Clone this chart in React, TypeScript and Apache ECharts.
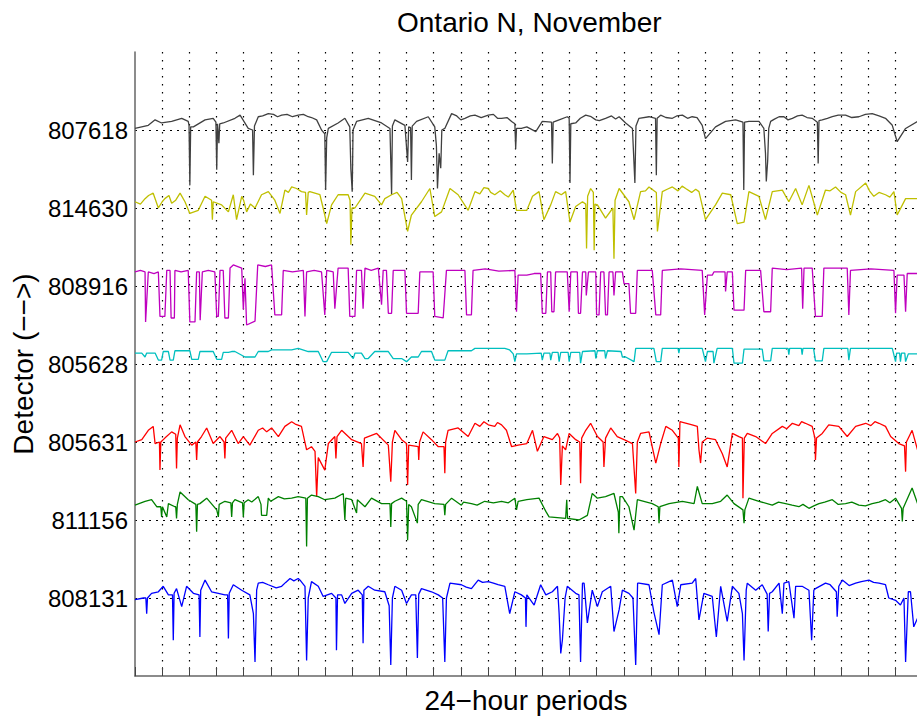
import React, { useEffect, useRef } from 'react';
import * as echarts from 'echarts';

const TITLE = 'Ontario N, November';
const X_NAME = '24\u2212hour periods';
const Y_NAME = 'Detector (\u2212\u2212>)';
// detectors, top to bottom
const DETECTORS = ['807618', '814630', '808916', '805628', '805631', '811156', '808131'];
const X_MAX_DAYS = 28.8;

// each trace: [day, level relative to its own baseline] (sorted by day when drawn)
const D807618 = [[0,0.02],[0.49,0.06],[0.74,0.13],[0.98,0.09],[1.35,0.11],[1.72,0.15],[1.96,0.11],[1.99,0.06],[2.02,-0.71],[2.05,0.04],[2.15,0.04],[2.58,0.13],[2.88,0.15],[2.98,0.1],[3.01,-0.51],[3.04,0.08],[3.09,-0.17],[3.12,0.08],[3.25,0.09],[3.68,0.15],[3.87,0.19],[4.17,0.02],[4.33,0.0],[4.36,-0.58],[4.40,0.05],[4.54,0.17],[4.91,0.21],[5.40,0.19],[6.01,0.19],[6.38,0.17],[6.69,0.13],[6.87,0.0],[6.99,-0.05],[7.02,-0.77],[7.06,-0.1],[7.12,0.02],[7.48,0.09],[7.73,0.15],[7.91,0.04],[7.95,-0.5],[8.0,-0.79],[8.03,0.0],[8.16,0.11],[8.59,0.15],[9.08,0.09],[9.39,0.02],[9.45,-0.83],[9.48,0.05],[9.57,0.13],[9.94,0.06],[10.04,-0.41],[10.08,0.04],[10.15,0.03],[10.18,-0.64],[10.21,0.05],[10.37,0.11],[10.80,0.17],[11.04,0.04],[11.10,-0.2],[11.14,-0.75],[11.20,-0.3],[11.26,-0.49],[11.30,0.0],[11.41,0.02],[11.66,0.21],[12.15,0.15],[12.52,0.19],[13.01,0.19],[13.50,0.15],[13.87,0.11],[13.99,0.08],[14.02,-0.24],[14.05,0.02],[14.23,0.02],[14.43,0.04],[14.76,-0.02],[15.0,0.11],[15.34,0.1],[15.37,-0.43],[15.40,0.1],[15.62,0.13],[15.92,0.17],[15.99,0.15],[16.02,-0.68],[16.05,0.08],[16.23,0.09],[16.6,0.19],[16.97,0.13],[17.33,0.15],[17.83,0.17],[18.07,0.09],[18.32,0.02],[18.41,-0.68],[18.45,0.05],[18.56,0.15],[18.93,0.17],[19.17,0.15],[19.2,-0.58],[19.23,0.15],[19.36,0.19],[19.79,0.15],[20.16,0.19],[20.52,0.17],[20.89,0.06],[21.01,-0.11],[21.38,0.04],[21.75,0.11],[22.12,0.13],[22.39,0.1],[22.42,-0.77],[22.45,0.1],[22.61,0.11],[22.98,0.11],[23.16,0.02],[23.22,-0.3],[23.25,-0.66],[23.3,-0.4],[23.34,0.02],[23.41,0.11],[23.72,0.17],[24.21,0.15],[24.57,0.19],[24.94,0.15],[25.13,0.1],[25.16,-0.43],[25.19,0.12],[25.31,0.13],[25.68,0.17],[26.17,0.19],[26.66,0.17],[27.15,0.21],[27.64,0.15],[27.89,0.06],[28.07,-0.15],[28.38,0.02],[28.82,0.11],
  [4.7,0.18],[5.1,0.2],[5.25,0.17],[5.6,0.2],[5.8,0.17],[6.2,0.2],[6.5,0.16],[11.85,0.18],[12.0,0.13],[12.35,0.18],[12.75,0.16],[13.2,0.2],[13.35,0.15],[13.7,0.16],[16.4,0.15],[16.8,0.17],[17.1,0.12],[17.55,0.18],[17.7,0.14],[19.55,0.16],[19.95,0.18],[20.35,0.15],[20.7,0.16],[23.55,0.14],[23.9,0.17],[24.05,0.13],[24.4,0.18],[24.75,0.16],[25.5,0.15],[25.9,0.19],[26.4,0.16],[26.9,0.2],[27.4,0.18]];

const D814630 = [[0,0.08],[0.37,0.12],[0.67,0.19],[0.86,0.0],[1.10,0.12],[1.35,0.06],[1.66,0.19],[1.84,0.08],[2.02,-0.07],[2.33,-0.03],[2.58,0.15],[2.82,0.1],[2.85,-0.15],[2.88,0.08],[3.19,0.04],[3.44,-0.05],[3.62,0.17],[3.74,-0.15],[3.93,0.15],[4.11,-0.05],[4.42,0.0],[4.66,0.17],[4.91,0.21],[5.15,0.1],[5.34,-0.07],[5.52,0.23],[5.77,0.27],[6.13,0.21],[6.28,0.2],[6.32,-0.09],[6.38,0.2],[6.44,0.21],[6.81,0.17],[6.99,-0.09],[7.06,-0.2],[7.24,0.04],[7.48,0.17],[7.85,0.17],[7.92,0.1],[7.95,-0.47],[7.99,0.0],[8.10,0.0],[8.47,0.19],[8.83,0.15],[9.08,0.04],[9.45,0.17],[9.82,0.12],[10.04,-0.3],[10.18,-0.09],[10.55,0.08],[10.86,0.25],[11.04,-0.11],[11.29,-0.05],[11.60,0.25],[11.90,0.17],[12.27,-0.03],[12.52,0.21],[13.01,0.25],[13.25,0.17],[13.62,0.17],[13.93,0.23],[14.05,-0.03],[14.43,-0.03],[14.64,0.15],[14.88,0.21],[15.06,-0.15],[15.31,0.04],[15.49,0.21],[15.86,0.21],[16.02,-0.18],[16.23,0.02],[16.48,0.08],[16.6,0.05],[16.63,-0.52],[16.67,0.15],[16.78,0.25],[16.88,0.2],[16.91,-0.54],[16.94,0.05],[17.03,0.04],[17.33,-0.13],[17.6,0.0],[17.64,-0.65],[17.68,0.1],[17.83,0.25],[18.19,0.08],[18.38,-0.15],[18.62,0.21],[18.93,0.27],[19.2,0.2],[19.24,-0.3],[19.42,0.21],[19.79,0.27],[20.28,0.25],[20.77,0.21],[21.01,-0.15],[21.38,0.04],[21.63,0.19],[21.94,0.17],[22.18,-0.2],[22.43,-0.18],[22.61,0.21],[22.98,0.15],[23.22,-0.15],[23.47,0.21],[23.84,0.23],[24.08,0.08],[24.33,0.25],[24.57,0.04],[24.82,0.29],[25.13,-0.09],[25.43,0.23],[25.8,0.27],[26.17,0.17],[26.35,-0.09],[26.54,0.21],[26.91,0.32],[27.21,0.15],[27.64,0.17],[27.95,0.21],[28.07,-0.09],[28.38,0.12],[28.82,0.12],
  [12.7,0.18],[12.85,0.26],[13.1,0.2],[13.45,0.22],[13.75,0.14],[19.6,0.24],[20.0,0.22],[20.15,0.28],[20.5,0.2],[20.65,0.24],[27.05,0.22],[27.4,0.2],[27.8,0.14],[0.2,0.05],[0.5,0.16],[1.0,0.08],[1.25,0.16],[1.5,0.1],[4.0,0.1],[4.25,0.05],[5.65,0.2],[5.95,0.25],[9.2,0.12],[9.65,0.2],[15.7,0.17],[18.8,0.22],[25.6,0.22],[26.0,0.2]];

const D808916 = [[0,0.18],[0.2,0.2],[0.37,0.18],[0.39,-0.46],[0.49,0.18],[0.7,0.16],[0.86,0.18],[0.92,-0.39],[1.10,-0.39],[1.17,0.2],[1.29,0.2],[1.33,-0.41],[1.45,-0.41],[1.47,0.2],[1.7,0.18],[1.96,0.2],[2.02,-0.46],[2.21,-0.46],[2.27,0.18],[2.37,0.18],[2.40,-0.44],[2.48,0.18],[2.7,0.2],[2.94,0.18],[3.01,-0.39],[3.07,-0.39],[3.13,0.2],[3.25,0.2],[3.31,-0.41],[3.44,-0.41],[3.50,0.23],[3.62,0.27],[3.93,0.23],[3.99,-0.3],[4.05,0.1],[4.11,-0.5],[4.42,-0.45],[4.52,0.27],[4.8,0.25],[5.03,0.27],[5.15,-0.37],[5.40,-0.37],[5.46,0.2],[5.8,0.18],[6.20,0.2],[6.26,-0.39],[6.32,0.18],[6.6,0.2],[6.87,0.18],[6.99,-0.37],[7.06,0.2],[7.3,0.18],[7.36,-0.29],[7.48,0.23],[7.85,0.23],[7.91,-0.39],[8.10,-0.39],[8.16,0.2],[8.34,0.2],[8.40,-0.29],[8.47,0.23],[8.7,0.2],[8.96,0.23],[9.08,-0.24],[9.14,0.2],[9.26,0.2],[9.33,-0.35],[9.45,-0.35],[9.51,0.2],[9.94,0.2],[10.0,-0.35],[10.43,-0.35],[10.49,0.18],[10.98,0.18],[11.04,-0.39],[11.35,-0.41],[11.47,0.2],[12.15,0.2],[12.21,-0.37],[12.39,-0.37],[12.45,0.2],[12.9,0.22],[13.4,0.19],[13.99,0.2],[14.05,-0.33],[14.11,0.14],[14.43,0.14],[14.7,0.16],[14.94,0.16],[15.0,-0.35],[15.13,-0.35],[15.19,0.18],[15.31,0.18],[15.35,-0.33],[15.43,-0.33],[15.49,0.18],[15.92,0.18],[15.99,-0.33],[16.05,0.18],[16.29,0.18],[16.33,-0.35],[16.41,-0.35],[16.48,0.18],[16.6,0.18],[16.62,-0.12],[16.7,0.18],[16.97,0.18],[17.0,-0.37],[17.09,-0.37],[17.15,0.18],[17.27,0.18],[17.33,-0.37],[17.4,-0.37],[17.46,0.18],[17.6,0.18],[17.64,-0.12],[17.7,0.18],[17.95,0.18],[18.01,0.03],[18.19,0.03],[18.25,-0.35],[18.44,-0.35],[18.5,0.2],[19.05,0.2],[19.18,-0.37],[19.36,-0.37],[19.42,0.2],[20.1,0.22],[20.89,0.2],[20.98,-0.37],[21.08,0.14],[21.26,0.14],[21.32,0.18],[21.73,0.18],[21.75,-0.07],[21.81,0.18],[22.0,0.18],[22.06,-0.31],[22.43,-0.31],[22.49,0.2],[23.04,0.2],[23.16,-0.33],[23.41,-0.33],[23.47,0.23],[24.0,0.21],[24.55,0.23],[24.59,-0.29],[24.64,0.23],[24.94,0.23],[25.06,-0.39],[25.31,-0.39],[25.37,0.23],[26.23,0.23],[26.29,-0.37],[26.35,0.2],[27.1,0.22],[27.95,0.2],[28.01,-0.35],[28.07,0.14],[28.32,0.14],[28.38,-0.33],[28.44,0.16],[28.82,0.16]];

const D805628 = [[0,0.14],[0.25,0.14],[0.37,0.09],[0.43,0.14],[0.74,0.14],[0.86,0.05],[0.98,0.05],[1.04,0.16],[1.23,0.16],[1.29,0.05],[1.41,0.05],[1.47,0.17],[2.02,0.17],[2.09,0.06],[2.33,0.06],[2.39,0.16],[2.88,0.16],[3.01,0.06],[3.19,0.06],[3.25,0.15],[3.44,0.15],[3.56,0.16],[3.68,0.16],[4.05,0.09],[4.42,0.09],[4.54,0.16],[4.91,0.16],[5.03,0.18],[5.77,0.18],[6.01,0.2],[6.38,0.16],[6.75,0.16],[6.93,0.03],[7.06,0.03],[7.24,0.15],[7.85,0.15],[8.04,0.07],[8.10,0.14],[8.34,0.14],[8.47,0.07],[8.59,0.07],[8.83,0.16],[9.33,0.16],[9.51,0.07],[9.82,0.07],[10.0,0.03],[10.18,0.09],[10.43,0.09],[10.55,0.16],[10.92,0.16],[11.04,0.05],[11.41,0.05],[11.53,0.17],[12.39,0.17],[12.52,0.2],[13.62,0.2],[13.80,0.18],[13.93,0.13],[13.99,0.03],[14.05,0.13],[14.43,0.13],[14.96,0.14],[15.0,0.05],[15.06,0.14],[15.28,0.14],[15.31,0.05],[15.37,0.15],[15.58,0.15],[15.62,0.03],[15.68,0.15],[15.95,0.15],[15.99,0.03],[16.05,0.15],[16.38,0.15],[16.41,0.01],[16.48,0.16],[16.94,0.17],[16.97,0.07],[17.03,0.17],[17.3,0.17],[17.33,0.07],[17.40,0.17],[17.9,0.16],[17.95,0.09],[18.07,0.09],[18.38,0.03],[18.44,0.2],[19.11,0.2],[19.2,0.03],[19.36,0.03],[19.42,0.2],[20.0,0.2],[20.03,0.14],[20.06,0.2],[20.89,0.2],[21.01,0.03],[21.08,0.16],[21.29,0.16],[21.32,0.01],[21.44,0.2],[22.0,0.2],[22.06,0.01],[22.37,0.01],[22.43,0.19],[23.1,0.19],[23.16,0.04],[23.41,0.04],[23.47,0.2],[24.05,0.2],[24.08,0.12],[24.11,0.2],[24.54,0.2],[24.57,0.12],[24.6,0.2],[24.99,0.2],[25.06,0.04],[25.31,0.04],[25.37,0.2],[26.25,0.2],[26.29,0.05],[26.35,0.2],[27.89,0.2],[28.01,0.03],[28.05,0.14],[28.16,0.14],[28.19,0.03],[28.23,0.14],[28.35,0.14],[28.38,0.03],[28.48,0.13],[28.82,0.13]];

const D805631 = [[0,0.0],[0.25,0.03],[0.49,0.15],[0.67,0.2],[0.74,-0.02],[0.90,0.0],[0.92,-0.36],[0.95,0.0],[1.10,0.05],[1.35,0.13],[1.50,0.1],[1.53,-0.34],[1.56,0.05],[1.66,0.22],[1.84,0.07],[2.09,-0.04],[2.24,0.0],[2.27,-0.23],[2.30,0.0],[2.45,0.07],[2.64,0.18],[2.88,-0.02],[3.13,0.07],[3.28,0.0],[3.31,-0.21],[3.34,0.05],[3.56,0.15],[3.80,-0.02],[3.99,0.07],[4.23,-0.04],[4.54,0.15],[4.85,0.13],[5.03,0.18],[5.28,0.07],[5.52,0.2],[5.77,0.26],[6.13,0.2],[6.32,-0.1],[6.50,-0.06],[6.63,-0.12],[6.69,-0.7],[6.75,-0.2],[6.99,-0.36],[7.12,-0.02],[7.36,0.07],[7.40,-0.21],[7.44,0.07],[7.61,0.15],[7.98,0.03],[8.34,-0.02],[8.40,-0.32],[8.45,0.05],[8.59,0.07],[8.90,0.11],[9.33,-0.04],[9.42,-0.51],[9.48,0.0],[9.57,0.15],[9.82,0.03],[10.0,-0.02],[10.04,-0.55],[10.08,-0.04],[10.43,-0.06],[10.45,-0.23],[10.48,0.0],[10.61,0.13],[10.92,0.03],[11.17,-0.06],[11.38,-0.06],[11.41,-0.4],[11.44,0.0],[11.53,0.15],[11.90,0.18],[12.27,0.07],[12.52,0.24],[13.01,0.22],[13.50,0.22],[13.68,0.15],[13.87,-0.06],[14.11,-0.04],[14.43,-0.02],[14.64,0.15],[14.82,-0.12],[15.06,0.07],[15.37,0.03],[15.56,0.11],[15.64,0.05],[15.68,-0.55],[15.74,-0.05],[15.86,-0.1],[15.99,0.11],[16.23,0.03],[16.38,0.0],[16.41,-0.53],[16.45,0.05],[16.6,0.15],[16.78,0.24],[17.03,0.07],[17.24,0.0],[17.27,-0.32],[17.33,0.05],[17.52,0.18],[17.76,0.07],[18.01,0.03],[18.32,-0.02],[18.44,-0.66],[18.5,0.0],[18.62,0.11],[18.93,0.13],[19.18,-0.27],[19.36,-0.02],[19.55,0.2],[19.79,0.15],[20.01,0.05],[20.03,-0.32],[20.07,0.26],[20.52,0.22],[20.71,0.2],[20.77,-0.1],[20.83,-0.27],[20.89,0.0],[21.08,0.05],[21.38,0.03],[21.63,-0.15],[21.81,-0.32],[22.0,0.11],[22.24,0.07],[22.37,0.05],[22.39,-0.72],[22.44,0.05],[22.55,0.11],[22.86,0.07],[23.22,-0.02],[23.47,0.11],[23.84,0.2],[24.21,0.24],[24.69,0.24],[24.94,0.2],[25.04,0.05],[25.06,-0.23],[25.10,0.05],[25.31,0.11],[25.55,0.22],[25.92,0.2],[26.23,0.07],[26.54,0.2],[26.91,0.24],[27.4,0.24],[27.64,0.2],[27.83,0.07],[28.13,-0.02],[28.34,-0.05],[28.38,-0.38],[28.41,0.0],[28.62,0.15],[28.82,-0.1],
  [12.7,0.2],[12.85,0.26],[13.25,0.2],[13.35,0.25],[24.0,0.17],[24.45,0.21],[24.55,0.26],[27.1,0.21],[27.25,0.26],[5.9,0.23],[4.7,0.18]];

const D811156 = [[0,0.19],[0.37,0.24],[0.61,0.26],[0.80,0.17],[0.95,0.17],[0.98,0.04],[1.01,0.17],[1.17,0.04],[1.23,0.21],[1.47,0.17],[1.50,0.17],[1.53,0.02],[1.56,0.2],[1.66,0.36],[1.96,0.26],[2.24,0.2],[2.27,-0.15],[2.30,0.2],[2.39,0.21],[2.64,0.28],[3.01,0.13],[3.07,0.04],[3.10,0.2],[3.31,0.24],[3.53,0.22],[3.56,0.04],[3.59,0.22],[3.68,0.26],[3.96,0.22],[3.99,0.04],[4.02,0.22],[4.17,0.26],[4.54,0.3],[4.64,0.2],[4.66,0.06],[4.85,0.06],[4.91,0.28],[5.28,0.3],[5.77,0.28],[6.01,0.3],[6.29,0.28],[6.32,-0.34],[6.35,0.28],[6.50,0.32],[6.75,0.3],[6.99,0.26],[7.36,0.28],[7.67,0.34],[7.73,0.0],[7.76,0.28],[7.98,0.26],[8.16,0.09],[8.19,0.26],[8.47,0.17],[8.71,0.28],[9.08,0.21],[9.39,0.21],[9.42,-0.09],[9.45,0.21],[9.57,0.24],[9.82,0.28],[10.0,0.24],[10.04,-0.26],[10.08,0.2],[10.18,0.17],[10.40,-0.04],[10.43,0.2],[10.55,0.26],[11.04,0.21],[11.38,0.2],[11.41,0.06],[11.44,0.2],[11.66,0.28],[12.02,0.19],[12.39,0.21],[12.88,0.24],[13.50,0.24],[13.99,0.28],[14.05,0.13],[14.11,0.24],[14.43,0.26],[14.88,0.28],[15.13,0.11],[15.25,0.04],[15.86,0.02],[15.9,0.26],[15.93,0.02],[16.35,0.0],[16.66,0.06],[16.84,0.34],[17.03,0.28],[17.33,0.3],[17.64,0.34],[17.8,0.1],[17.82,-0.17],[17.86,0.3],[17.95,0.3],[18.19,0.17],[18.38,-0.13],[18.5,0.26],[19.05,0.21],[19.27,0.17],[19.3,-0.04],[19.33,0.17],[19.67,0.21],[20.16,0.24],[20.59,0.21],[20.71,0.43],[20.89,0.21],[21.26,0.21],[21.57,0.24],[21.81,0.32],[22.06,0.21],[22.39,0.13],[22.43,-0.04],[22.46,0.13],[22.61,0.28],[22.98,0.24],[23.47,0.19],[23.96,0.21],[24.45,0.17],[24.82,0.15],[25.19,0.21],[25.68,0.26],[26.17,0.21],[26.66,0.19],[27.15,0.21],[27.64,0.26],[28.01,0.28],[28.23,0.15],[28.26,-0.02],[28.29,0.15],[28.62,0.41],[28.82,0.21],
  [23.7,0.23],[24.2,0.19],[24.6,0.2],[25.0,0.18],[25.4,0.23],[25.9,0.2],[26.4,0.23],[26.9,0.18],[27.4,0.23],[27.8,0.22],[12.1,0.23],[12.6,0.19],[13.2,0.22],[13.75,0.22],[4.3,0.23],[5.0,0.24],[5.5,0.27]];

const D808131 = [[0,-0.02],[0.31,0.0],[0.40,0.0],[0.43,-0.2],[0.46,0.0],[0.61,0.06],[0.86,0.08],[1.04,0.15],[1.23,0.04],[1.38,0.04],[1.41,-0.54],[1.44,0.06],[1.53,0.12],[1.72,-0.11],[1.90,0.15],[2.15,0.06],[2.36,0.04],[2.39,-0.5],[2.42,0.1],[2.58,0.23],[2.82,0.08],[3.07,0.06],[3.31,0.04],[3.41,0.04],[3.44,-0.52],[3.47,0.06],[3.62,0.17],[3.93,0.1],[4.23,0.04],[4.36,-0.2],[4.42,-0.82],[4.48,0.1],[4.54,0.19],[4.91,0.17],[5.40,0.15],[5.71,0.25],[6.01,0.25],[6.26,0.15],[6.32,-0.8],[6.38,0.0],[6.50,0.21],[6.75,0.15],[6.93,0.02],[7.24,0.06],[7.40,0.0],[7.42,-0.67],[7.46,0.04],[7.61,0.04],[7.73,-0.07],[7.98,0.06],[8.22,0.1],[8.37,0.04],[8.40,-0.58],[8.43,0.1],[8.59,0.15],[8.83,0.1],[9.20,0.08],[9.36,-0.1],[9.42,-0.86],[9.48,0.0],[9.57,0.15],[9.82,0.1],[10.0,-0.07],[10.18,0.04],[10.34,0.04],[10.40,-0.77],[10.45,0.05],[10.55,0.12],[10.92,0.08],[11.17,0.04],[11.33,0.0],[11.41,-0.82],[11.47,0.0],[11.60,0.19],[12.02,0.17],[12.39,0.12],[12.64,0.23],[13.01,0.21],[13.37,0.17],[13.62,0.15],[13.80,-0.2],[13.99,0.08],[14.23,0.04],[14.38,0.0],[14.40,-0.37],[14.43,0.04],[14.7,-0.09],[14.94,0.17],[15.13,0.04],[15.37,0.08],[15.56,0.15],[15.62,-0.2],[15.68,-0.71],[15.74,-0.54],[15.84,0.0],[15.92,0.15],[16.23,0.06],[16.35,0.04],[16.41,-0.82],[16.48,0.19],[16.54,0.19],[16.66,-0.32],[16.84,0.1],[17.03,-0.11],[17.21,0.08],[17.52,0.15],[17.64,-0.43],[17.83,-0.15],[17.95,0.1],[18.19,0.06],[18.34,0.0],[18.44,-0.86],[18.51,0.19],[18.56,0.19],[18.93,0.17],[19.11,-0.18],[19.3,-0.47],[19.42,0.17],[19.79,0.23],[19.97,-0.11],[20.1,0.17],[20.52,0.19],[20.65,0.25],[20.77,-0.28],[20.95,0.06],[21.26,0.02],[21.41,-0.5],[21.57,0.15],[21.81,-0.3],[22.0,0.15],[22.24,0.06],[22.37,-0.2],[22.43,-0.8],[22.51,0.1],[22.55,0.19],[22.86,0.1],[23.1,0.17],[23.28,0.05],[23.32,-0.43],[23.37,0.06],[23.47,0.08],[23.72,0.19],[23.84,-0.2],[23.9,0.19],[24.08,0.21],[24.27,-0.26],[24.33,0.15],[24.57,0.15],[24.82,0.1],[24.92,-0.54],[25.0,0.1],[25.06,0.12],[25.43,0.19],[25.83,0.08],[25.86,-0.24],[25.92,0.15],[26.05,0.23],[26.54,0.19],[27.03,0.23],[27.4,0.19],[27.64,0.17],[27.76,0.0],[28.01,-0.03],[28.19,-0.09],[28.32,0.0],[28.38,-0.82],[28.48,0.08],[28.56,0.08],[28.68,-0.37],[28.82,-0.26],
  [25.6,0.17],[26.3,0.16],[26.75,0.21],[27.2,0.2],[12.2,0.14],[12.8,0.2],[13.2,0.19],[4.7,0.2],[5.2,0.13],[5.55,0.2],[5.85,0.22],[6.1,0.22]];

const TRACES = [D807618, D814630, D808916, D805628, D805631, D811156, D808131];
const TRACE_COLORS = ['#404040', '#bfbf00', '#bf00bf', '#00bfbf', '#ff0000', '#008000', '#0000ff'];
const FONT = '"Liberation Sans", Arial, Helvetica, sans-serif';

export default function App() {
  const ref = useRef<HTMLDivElement>(null);

  useEffect(() => {
    if (!ref.current) return;
    const chart = echarts.init(ref.current, null, { renderer: 'svg' });
    const n = DETECTORS.length;

    const series = TRACES.map((trace, i) => ({
      type: 'line',
      name: DETECTORS[i],
      data: trace
        .slice()
        .sort((a, b) => a[0] - b[0])
        .map(([d, v]) => [d, n - i + v]),
      showSymbol: false,
      symbol: 'none',
      silent: true,
      clip: true,
      lineStyle: { width: 1.3, color: TRACE_COLORS[i] },
      itemStyle: { color: TRACE_COLORS[i] },
      emphasis: { disabled: true },
      z: 3,
    }));

    const splitColors = ['rgba(0,0,0,0)'];
    for (let k = 0; k < n; k++) splitColors.push('#000');
    splitColors.push('rgba(0,0,0,0)');

    chart.setOption({
      animation: false,
      backgroundColor: '#fff',
      textStyle: { fontFamily: FONT },
      title: {
        text: TITLE,
        left: 397,
        top: 8,
        padding: 0,
        textStyle: { fontFamily: FONT, fontSize: 28, fontWeight: 'normal', color: '#000' },
      },
      grid: {
        left: 135,
        right: 0,
        top: 52,
        bottom: 43,
        containLabel: false,
        outerBoundsMode: 'none',
      },
      xAxis: {
        type: 'value',
        min: 0,
        max: X_MAX_DAYS,
        interval: 1,
        name: X_NAME,
        nameLocation: 'middle',
        nameGap: 10,
        nameTextStyle: { fontFamily: FONT, fontSize: 28, color: '#000' },
        axisLine: { show: true, lineStyle: { color: '#666', width: 1.5 } },
        axisTick: { show: true, inside: true, length: 9, lineStyle: { color: '#444', width: 1 } },
        axisLabel: { show: false },
        splitLine: {
          show: true,
          showMinLine: false,
          showMaxLine: false,
          lineStyle: { color: '#000', width: 1.2, type: [1.5, 6.5] },
        },
      },
      yAxis: {
        type: 'value',
        min: 0,
        max: n + 1,
        interval: 1,
        name: Y_NAME,
        nameLocation: 'middle',
        nameGap: 97,
        nameTextStyle: { fontFamily: FONT, fontSize: 28, color: '#000' },
        axisLine: { show: true, lineStyle: { color: '#666', width: 1.5 } },
        axisTick: { show: false },
        axisLabel: {
          show: true,
          margin: 7,
          fontFamily: FONT,
          fontSize: 24,
          color: '#000',
          formatter: (v: number) => (v >= 1 && v <= n ? DETECTORS[n - v] : ''),
        },
        splitLine: {
          show: true,
          lineStyle: { color: splitColors, width: 1.2, type: [2, 5] },
        },
      },
      series,
    });

    return () => chart.dispose();
  }, []);

  return (
    <div
      ref={ref}
      style={{ position: 'fixed', left: 0, top: 0, width: 917, height: 719, background: '#fff' }}
    />
  );
}
